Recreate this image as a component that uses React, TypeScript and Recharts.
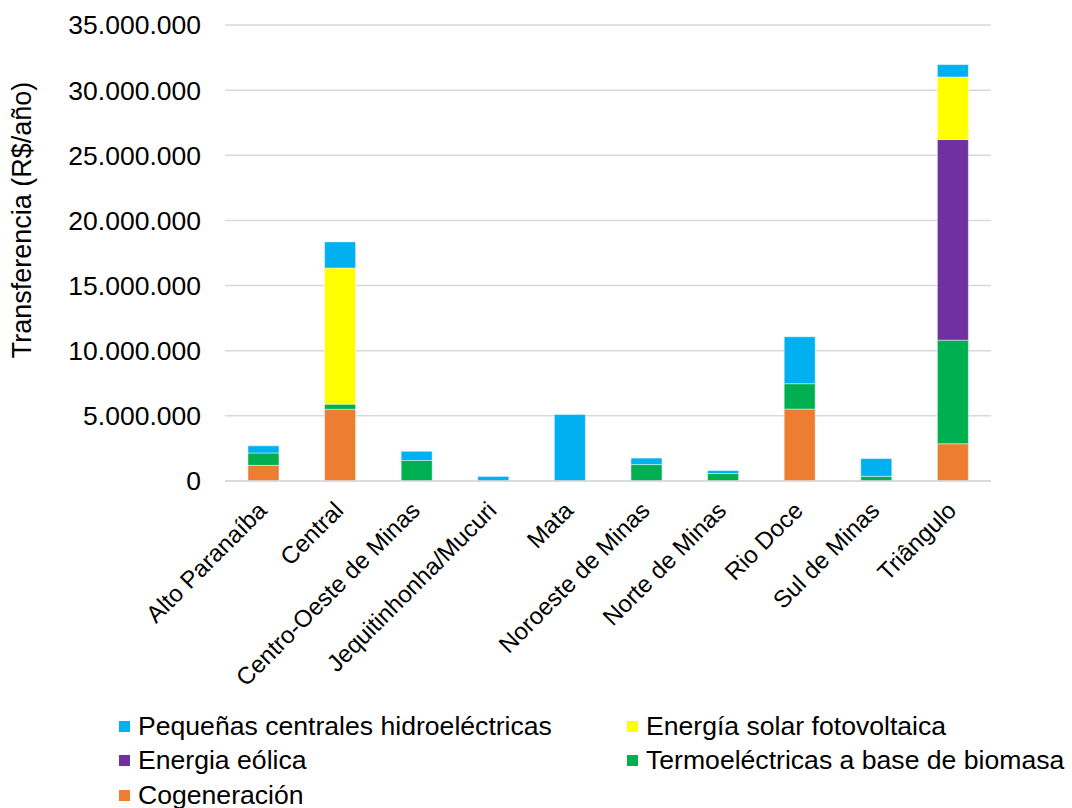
import { BarChart, Bar, XAxis, YAxis, CartesianGrid } from "recharts";

const categories = [
  "Alto Paranaíba",
  "Central",
  "Centro-Oeste de Minas",
  "Jequitinhonha/Mucuri",
  "Mata",
  "Noroeste de Minas",
  "Norte de Minas",
  "Rio Doce",
  "Sul de Minas",
  "Triângulo",
];

// valores en R$/año
const cogeneracion = [1200000, 5500000, 0, 0, 0, 0, 0, 5520000, 0, 2860000];
const biomasa = [950000, 400000, 1580000, 0, 0, 1260000, 570000, 1950000, 360000, 7950000];
const eolica = [0, 0, 0, 0, 0, 0, 0, 0, 0, 15400000];
const solar = [0, 10450000, 0, 0, 0, 0, 0, 0, 0, 4800000];
const pch = [550000, 2000000, 700000, 350000, 5100000, 500000, 230000, 3600000, 1360000, 950000];

const yTicks = [0, 5000000, 10000000, 15000000, 20000000, 25000000, 30000000, 35000000];

// stacking order, bottom to top
const series = [
  { key: "cog", name: "Cogeneración", color: "#ED7D31", values: cogeneracion },
  { key: "bio", name: "Termoeléctricas a base de biomasa", color: "#00B050", values: biomasa },
  { key: "eol", name: "Energia eólica", color: "#7030A0", values: eolica },
  { key: "sol", name: "Energía solar fotovoltaica", color: "#FFFF00", values: solar },
  { key: "pch", name: "Pequeñas centrales hidroeléctricas", color: "#00B0F0", values: pch },
];

const legendOrder = ["pch", "sol", "eol", "bio", "cog"];

const FONT = '"Liberation Sans", Arial, sans-serif';

const data = categories.map((c, i) => {
  const row: Record<string, string | number> = { name: c };
  series.forEach((s) => (row[s.key] = s.values[i]));
  return row;
});

const fmt = (v: number) => String(v).replace(/\B(?=(\d{3})+(?!\d))/g, ".");

function XTick(props: any) {
  const { x, y, payload } = props;
  return (
    <g transform={`translate(${x - 1},${y + 25})`}>
      <text
        x={0}
        y={0}
        dy="0.35em"
        textAnchor="end"
        transform="rotate(-45)"
        fill="#000"
        fontSize={24}
        fontFamily={FONT}
      >
        {payload.value}
      </text>
    </g>
  );
}

function YTitle(props: any) {
  const { viewBox } = props;
  const cx = 22;
  const cy = viewBox.y + viewBox.height / 2 - 33;
  return (
    <text
      x={cx}
      y={cy}
      transform={`rotate(-90, ${cx}, ${cy})`}
      textAnchor="middle"
      dominantBaseline="central"
      fill="#000"
      fontSize={27}
      fontFamily={FONT}
    >
      Transferencia (R$/año)
    </text>
  );
}

export default function App() {
  const legendItems = legendOrder.map((k) => series.find((s) => s.key === k)!);
  return (
    <div
      style={{
        position: "absolute",
        left: 0,
        top: 0,
        width: 1072,
        height: 808,
        background: "#fff",
        fontFamily: FONT,
      }}
    >
      <BarChart
        width={1072}
        height={808}
        data={data}
        margin={{ top: 25, right: 81, left: 0, bottom: 127 }}
        barCategoryGap="30%"
      >
        <CartesianGrid vertical={false} stroke="#D9D9D9" strokeWidth={1.5} />
        <XAxis
          dataKey="name"
          interval={0}
          height={200}
          tickLine={false}
          tickSize={0}
          tickMargin={0}
          axisLine={{ stroke: "#D9D9D9", strokeWidth: 1.5 }}
          tick={<XTick />}
        />
        <YAxis
          width={225}
          domain={[0, 35000000]}
          ticks={yTicks}
          tickFormatter={fmt}
          axisLine={false}
          tickLine={false}
          tickSize={0}
          tickMargin={24}
          tick={{ fill: "#000", fontSize: 26.5, fontFamily: FONT }}
          label={<YTitle />}
        />
        {series.map((s) => (
          <Bar
            key={s.key}
            dataKey={s.key}
            name={s.name}
            stackId="a"
            fill={s.color}
            stroke="#ffffff"
            strokeOpacity={0.6}
            strokeWidth={0.75}
            isAnimationActive={false}
          />
        ))}
      </BarChart>
      <div
        style={{
          position: "absolute",
          left: 119,
          top: 709,
          display: "grid",
          gridTemplateColumns: "508px 440px",
          gridAutoRows: "34.5px",
          fontSize: 26.6,
          color: "#000",
        }}
      >
        {legendItems.map((s) => (
          <div key={s.key} style={{ display: "flex", alignItems: "center", whiteSpace: "nowrap" }}>
            <span
              style={{
                display: "inline-block",
                width: 11,
                height: 11,
                background: s.color,
                marginRight: 8,
              }}
            />
            <span>{s.name}</span>
          </div>
        ))}
      </div>
    </div>
  );
}
